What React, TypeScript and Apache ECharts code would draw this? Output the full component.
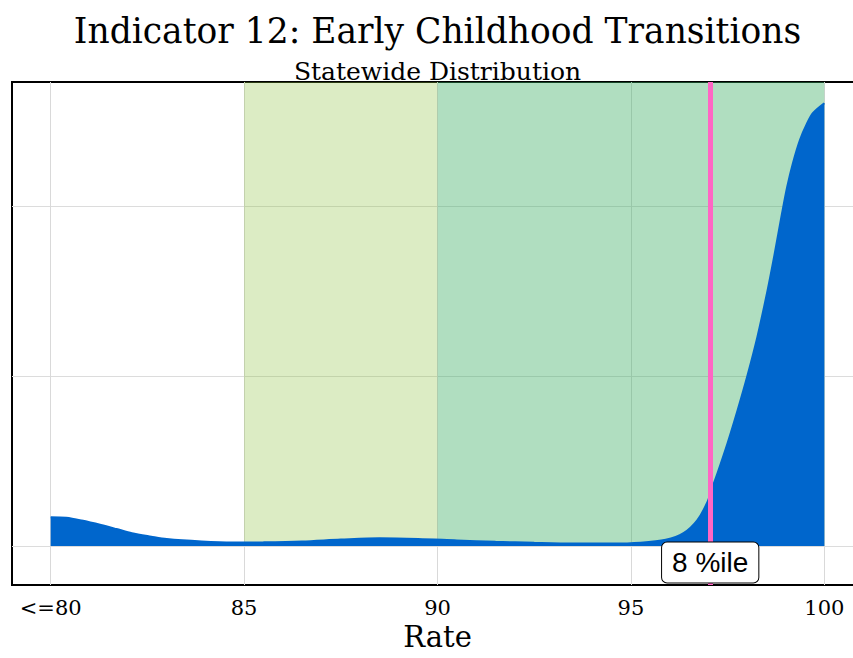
import React, { useEffect, useRef } from "react";
import * as echarts from "echarts";

const titleText = "Indicator 12: Early Childhood Transitions";
const subtitleText = "Statewide Distribution";
const xAxisName = "Rate";

const tickValues = [80, 85, 90, 95, 100];
const tickLabels = ["<=80", "85", "90", "95", "100"];
const yGridValues = [0, 1, 2];

// density curve: rate (x) and density (y)
const densityX = [
  80, 80.4, 80.8, 81.3, 81.7, 82.1, 82.6, 83.0, 83.9, 84.7, 85.5, 86.5, 87.5,
  88.5, 89.5, 90.5, 91.5, 92.5, 93.5, 94.5, 95.25, 95.9, 96.36, 96.72, 96.98,
  97.11, 97.24, 97.5, 97.76, 98.01, 98.27, 98.53, 98.71, 98.91, 99.04, 99.19,
  99.37, 99.56, 99.71, 100,
];
const densityY = [
  0.169, 0.166, 0.15, 0.124, 0.1, 0.075, 0.055, 0.041, 0.027, 0.021, 0.022,
  0.027, 0.038, 0.046, 0.042, 0.033, 0.025, 0.019, 0.015, 0.015, 0.02, 0.037,
  0.076, 0.153, 0.259, 0.347, 0.429, 0.606, 0.8, 1.0, 1.23, 1.5, 1.71,
  1.96, 2.112, 2.253, 2.388, 2.488, 2.547, 2.604,
];

const bandRanges = [
  [85, 90],
  [90, 100],
];
const bandColors = ["rgba(138,192,58,0.3)", "rgba(58,172,98,0.4)"];

const percentileValue = 97.05;
const percentileLabel = "8 %ile";

const X_MIN = 79;
const X_MAX = 101;
const Y_MIN = -0.229;
const Y_MAX = 2.729;

export default function App() {
  const ref = useRef<HTMLDivElement>(null);

  useEffect(() => {
    if (!ref.current) return;
    const chart = echarts.init(ref.current, undefined, { renderer: "svg" });
    const serif = "'DejaVu Serif', serif";
    const data = densityX.map((x, i) => [x, densityY[i]]);

    chart.setOption({
      animation: false,
      backgroundColor: "#ffffff",
      title: [
        {
          text: titleText,
          left: "center",
          top: 8,
          textStyle: {
            fontFamily: serif,
            fontWeight: "normal",
            fontSize: 34.5,
            color: "#000",
          },
        },
        {
          text: subtitleText,
          left: "center",
          top: 54,
          textStyle: {
            fontFamily: serif,
            fontWeight: "normal",
            fontSize: 25,
            color: "#000",
          },
        },
      ],
      grid: {
        left: 12,
        width: 851,
        top: 82,
        height: 503,
        show: true,
        borderColor: "#000",
        borderWidth: 2,
        backgroundColor: "transparent",
        containLabel: false,
      },
      xAxis: {
        type: "value",
        min: X_MIN,
        max: X_MAX,
        name: xAxisName,
        nameLocation: "middle",
        nameGap: 36,
        nameTextStyle: { fontFamily: serif, fontSize: 29, color: "#000" },
        axisLine: { show: false },
        axisTick: { show: false, customValues: tickValues },
        axisLabel: {
          customValues: tickValues,
          formatter: (v: number) => tickLabels[tickValues.indexOf(v)] ?? String(v),
          fontFamily: serif,
          fontSize: 21,
          color: "#000",
          margin: 12,
        },
        splitLine: { show: true, lineStyle: { color: "#d9d9d9", width: 1 } },
      },
      yAxis: {
        type: "value",
        min: Y_MIN,
        max: Y_MAX,
        axisLine: { show: false },
        axisTick: { show: false, customValues: yGridValues },
        axisLabel: { show: false, customValues: yGridValues },
        splitLine: { show: true, lineStyle: { color: "#dcdcdc", width: 1 } },
      },
      series: [
        {
          type: "line",
          z: 1,
          data: [],
          silent: true,
          markArea: {
            silent: true,
            data: bandRanges.map((r, i) => [
              { xAxis: r[0], yAxis: 0, itemStyle: { color: bandColors[i] } },
              { xAxis: r[1], yAxis: Y_MAX },
            ]),
          },
        },
        {
          type: "line",
          z: 2,
          data,
          smooth: 0.3,
          symbol: "none",
          lineStyle: { color: "#0066cc", width: 2 },
          areaStyle: { color: "#0066cc", opacity: 1 },
        },
        {
          type: "line",
          z: 3,
          data: [],
          markLine: {
            silent: true,
            symbol: ["none", "none"],
            label: { show: false },
            lineStyle: { color: "#ff66c4", width: 5, type: "solid" },
            data: [{ xAxis: percentileValue }],
          },
        },
        {
          type: "scatter",
          z: 4,
          data: [],
          markPoint: {
            symbol: "rect",
            symbolSize: 0,
            data: [{ coord: [percentileValue, -0.097] }],
            label: {
              show: true,
              position: "inside",
              formatter: percentileLabel,
              fontFamily: "'Liberation Sans', Arial, sans-serif",
              fontSize: 28,
              lineHeight: 28,
              color: "#000",
              backgroundColor: "#fff",
              borderColor: "#000",
              borderWidth: 1,
              borderRadius: 5,
              padding: [6, 10],
            },
          },
        },
      ],
    });

    return () => chart.dispose();
  }, []);

  return (
    <div
      ref={ref}
      style={{ position: "fixed", left: 0, top: 0, width: 875, height: 700 }}
    />
  );
}
